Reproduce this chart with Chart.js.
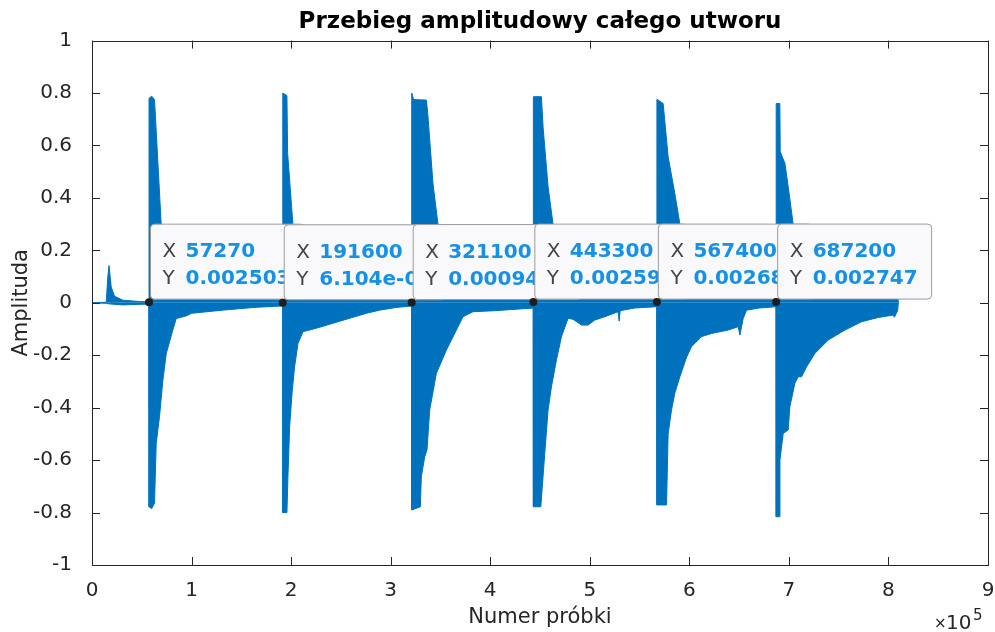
<!DOCTYPE html>
<html>
<head>
<meta charset="utf-8">
<script src="https://cdn.jsdelivr.net/npm/chart.js@4.4.1/dist/chart.umd.min.js"></script>
<style>
  html, body { margin: 0; padding: 0; background: #fff; }
</style>
</head>
<body>
<canvas id="myChart" width="995" height="632"></canvas>
<script>
// upper envelope of the waveform (sample number, amplitude)
var upperX = [0, 14300, 15900, 17100, 19300, 22600, 31000, 47700, 57200,
    57270, 57300, 60000, 62800, 69500, 75000, 85000, 110000, 150000, 191500,
    191600, 191700, 195800, 196500, 201800, 206000, 215000, 250000, 290000, 321000,
    321100, 321200, 323000, 335900, 337500, 342500, 347500, 356000, 372000, 400000, 443200,
    443300, 443400, 451400, 453100, 458100, 463100, 471600, 490000, 520000, 567300,
    567400, 567500, 573700, 578700, 585400, 590500, 602000, 640000, 655000, 687100,
    687200, 687300, 690900, 691300, 696000, 699300, 704300, 718000, 740000, 775000, 805000, 809500, 810000];
var upperY = [0, 0.002, 0.10, 0.142, 0.06, 0.025, 0.01, 0.005, 0.004,
    0.004, 0.78, 0.788, 0.775, 0.30, 0.15, 0.06, 0.03, 0.02, 0.012,
    0.012, 0.80, 0.79, 0.57, 0.30, 0.16, 0.10, 0.06, 0.02, 0.012,
    0.012, 0.80, 0.775, 0.773, 0.71, 0.455, 0.30, 0.17, 0.06, 0.025, 0.012,
    0.012, 0.786, 0.786, 0.67, 0.443, 0.30, 0.12, 0.08, 0.03, 0.012,
    0.012, 0.776, 0.76, 0.557, 0.417, 0.30, 0.15, 0.09, 0.02, 0.012,
    0.012, 0.76, 0.76, 0.576, 0.532, 0.443, 0.30, 0.20, 0.13, 0.065, 0.04, 0.02, 0];

// lower envelope of the waveform
var lowerX = [0, 14300, 17000, 22600, 31000, 47700, 57200,
    57270, 57300, 60000, 62800, 64500, 67800, 71200, 74600, 81200, 84600, 94700, 100000, 131000, 165000, 191500,
    191600, 191700, 195800, 196800, 198500, 201200, 203500, 206900, 211900, 225300, 242000, 258800, 275600, 288900, 305000, 321000,
    321100, 321200, 329800, 330800, 334200, 336500, 339200, 345900, 356000, 366000, 372700, 382700, 405000, 443200,
    443300, 443400, 450800, 454800, 458100, 461500, 466500, 471600, 478200, 483200, 491700, 498300, 505000, 515100, 528400, 529500, 530500, 545000, 567300,
    567400, 567500, 577100, 578700, 582100, 585400, 590500, 597000, 602200, 605500, 612300, 622300, 639000, 649100, 650800, 654100, 657500, 670000, 687100,
    687200, 687300, 690300, 691000, 694300, 699300, 701000, 706000, 709400, 712800, 717800, 726100, 739500, 756300, 773100, 789800, 804800, 806000, 809200, 810000];
var lowerY = [0, -0.002, -0.004, -0.006, -0.008, -0.006, -0.005,
    -0.005, -0.778, -0.785, -0.764, -0.536, -0.434, -0.295, -0.193, -0.104, -0.06, -0.05, -0.04, -0.028, -0.017, -0.012,
    -0.012, -0.80, -0.80, -0.663, -0.473, -0.333, -0.244, -0.155, -0.11, -0.097, -0.078, -0.059, -0.04, -0.028, -0.018, -0.012,
    -0.012, -0.79, -0.778, -0.663, -0.587, -0.561, -0.409, -0.269, -0.18, -0.104, -0.053, -0.034, -0.03, -0.02,
    -0.02, -0.778, -0.778, -0.574, -0.409, -0.32, -0.218, -0.129, -0.059, -0.063, -0.085, -0.085, -0.066, -0.053, -0.034, -0.07, -0.03, -0.02, -0.015,
    -0.015, -0.771, -0.771, -0.5, -0.409, -0.345, -0.282, -0.21, -0.167, -0.155, -0.129, -0.117, -0.104, -0.091, -0.123, -0.06, -0.028, -0.02, -0.015,
    -0.015, -0.816, -0.816, -0.60, -0.498, -0.485, -0.396, -0.307, -0.282, -0.282, -0.244, -0.193, -0.142, -0.104, -0.072, -0.056, -0.047, -0.055, -0.03, 0];

// data tips
var tipX = [57270, 191600, 321100, 443300, 567400, 687200];
var tipY = [0.002503, 0.00006104, 0.0009461, 0.002594, 0.002686, 0.002747];

var titleText = 'Przebieg amplitudowy całego utworu';
var xLabel = 'Numer próbki';
var yLabel = 'Amplituda';

var axisColor = '#262626';
var waveColor = '#0072BD';
var fontName = 'DejaVu Sans';

function toPoints(xs, ys) {
    return xs.map(function (x, i) { return { x: x, y: ys[i] }; });
}

function fmt4(v) {
    if (Math.abs(v) < 1e-4) {
        return v.toExponential(3).replace(/e([+-])(\d)$/, 'e$10$2');
    }
    return String(Number(v.toPrecision(4)));
}

var matlabAxes = {
    id: 'matlabAxes',
    afterDatasetsDraw: function (chart) {
        var ctx = chart.ctx;
        var a = chart.chartArea;
        var xs = chart.scales.x;
        var ys = chart.scales.y;
        var tick = 8;
        ctx.save();
        ctx.strokeStyle = axisColor;
        ctx.lineWidth = 1;
        ctx.beginPath();
        xs.ticks.forEach(function (t) {
            var px = Math.round(xs.getPixelForValue(t.value)) + 0.5;
            ctx.moveTo(px, a.bottom); ctx.lineTo(px, a.bottom - tick);
            ctx.moveTo(px, a.top); ctx.lineTo(px, a.top + tick);
        });
        ys.ticks.forEach(function (t) {
            var py = Math.round(ys.getPixelForValue(t.value)) + 0.5;
            ctx.moveTo(a.left, py); ctx.lineTo(a.left + tick, py);
            ctx.moveTo(a.right, py); ctx.lineTo(a.right - tick, py);
        });
        ctx.stroke();
        ctx.strokeRect(Math.round(a.left) + 0.5, Math.round(a.top) + 0.5,
            Math.round(a.right - a.left), Math.round(a.bottom - a.top));

        // exponent of the x axis
        ctx.fillStyle = axisColor;
        ctx.textBaseline = 'alphabetic';
        ctx.textAlign = 'left';
        ctx.font = '15px ' + fontName;
        ctx.fillText('×', a.right - 54, a.bottom + 63);
        ctx.font = '20px ' + fontName;
        ctx.fillText('10', a.right - 42, a.bottom + 64);
        ctx.font = '15px ' + fontName;
        ctx.fillText('5', a.right - 15, a.bottom + 55);

        // data tips
        for (var i = 0; i < tipX.length; i++) {
            var px = xs.getPixelForValue(tipX[i]);
            var py = ys.getPixelForValue(tipY[i]);
            var xt = String(tipX[i]);
            var yt = fmt4(tipY[i]);
            ctx.font = 'bold 20px ' + fontName;
            var w = Math.max(ctx.measureText(xt).width, ctx.measureText(yt).width);
            var left = px + 1.5;
            var bottom = py - 3;
            var boxW = 35 + w + 14;
            var boxH = 75;
            ctx.beginPath();
            ctx.roundRect(left, bottom - boxH, boxW, boxH, 4);
            ctx.fillStyle = '#f9f9fb';
            ctx.fill();
            ctx.strokeStyle = '#9c9c9c';
            ctx.lineWidth = 1;
            ctx.stroke();

            ctx.font = '20px ' + fontName;
            ctx.fillStyle = '#444444';
            ctx.fillText('X', left + 12, bottom - boxH + 33);
            ctx.fillText('Y', left + 12, bottom - boxH + 60);
            ctx.font = 'bold 20px ' + fontName;
            ctx.fillStyle = '#1591e6';
            ctx.fillText(xt, left + 35, bottom - boxH + 33);
            ctx.fillText(yt, left + 35, bottom - boxH + 60);

            ctx.beginPath();
            ctx.arc(px, py, 4, 0, Math.PI * 2);
            ctx.fillStyle = '#1e1e1e';
            ctx.fill();
        }
        ctx.restore();
    }
};

Chart.defaults.font.family = fontName;
Chart.defaults.color = axisColor;

new Chart('myChart', {
    type: 'line',
    data: {
        datasets: [{
            data: toPoints(upperX, upperY),
            borderColor: waveColor,
            backgroundColor: waveColor,
            borderWidth: 1,
            pointRadius: 0,
            fill: 'origin',
            tension: 0
        }, {
            data: toPoints(lowerX, lowerY),
            borderColor: waveColor,
            backgroundColor: waveColor,
            borderWidth: 1,
            pointRadius: 0,
            fill: 'origin',
            tension: 0
        }]
    },
    options: {
        responsive: false,
        animation: false,
        layout: {
            padding: { left: 0, right: 7, top: 0, bottom: 0 }
        },
        plugins: {
            legend: { display: false },
            tooltip: { enabled: false },
            title: {
                display: true,
                text: titleText,
                fullSize: false,
                color: '#000',
                font: { size: 23, weight: 'bold' },
                padding: { top: 8, bottom: 5 }
            }
        },
        scales: {
            x: {
                type: 'linear',
                min: 0,
                max: 900000,
                grid: { display: false },
                border: { display: false },
                ticks: {
                    stepSize: 100000,
                    font: { size: 20 },
                    color: axisColor,
                    padding: 6,
                    maxRotation: 0,
                    callback: function (v) { return String(v / 100000); }
                },
                title: {
                    display: true,
                    text: xLabel,
                    color: axisColor,
                    font: { size: 21 },
                    padding: { top: 0, bottom: 2 }
                },
                afterFit: function (scale) {
                    scale.height = 67;
                    scale.paddingLeft = 0;
                    scale.paddingRight = 0;
                }
            },
            y: {
                min: -1,
                max: 1,
                grid: { display: false },
                border: { display: false },
                ticks: {
                    stepSize: 0.2,
                    font: { size: 20 },
                    color: axisColor,
                    padding: 12,
                    callback: function (v) {
                        var r = Math.round(v * 10) / 10;
                        return r === 0 ? '0' : String(r);
                    }
                },
                title: {
                    display: true,
                    text: yLabel,
                    color: axisColor,
                    font: { size: 21 },
                    padding: { top: 9, bottom: 0 }
                },
                afterFit: function (scale) {
                    scale.width = 92;
                    scale.paddingTop = 0;
                    scale.paddingBottom = 0;
                }
            }
        }
    },
    plugins: [matlabAxes]
});
</script>
</body>
</html>
